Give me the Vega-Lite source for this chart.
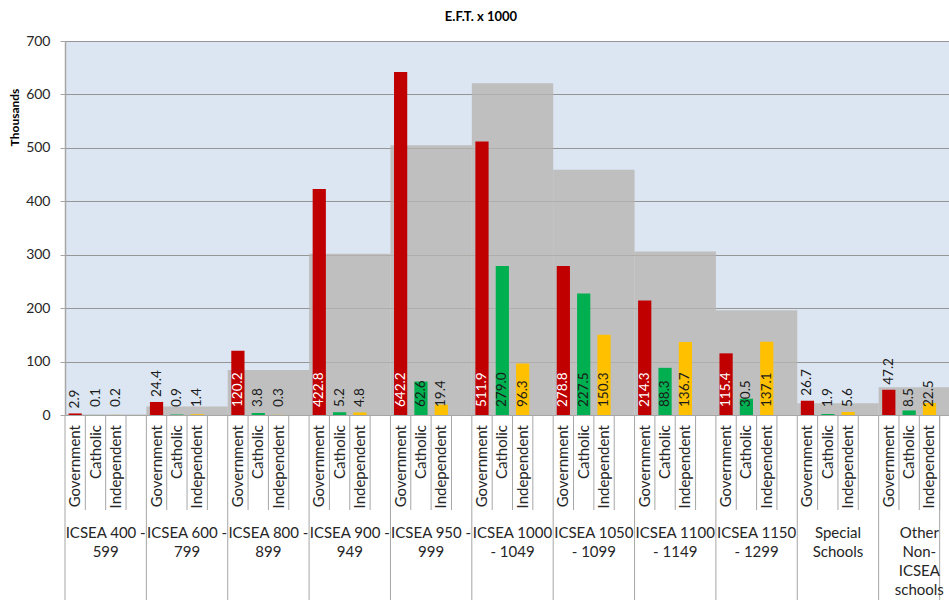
{
  "$schema": "https://vega.github.io/schema/vega-lite/v6.json",
  "autosize": "none",
  "width": 884,
  "height": 374,
  "padding": {"left": 65, "top": 41, "right": 0, "bottom": 185},
  "background": "white",
  "title": {
    "text": "E.F.T. x 1000",
    "font": "Lato",
    "fontSize": 13,
    "fontWeight": "bold",
    "color": "#000000",
    "anchor": "middle",
    "frame": "group",
    "baseline": "alphabetic",
    "dx": -26,
    "offset": 0
  },
  "config": {
    "font": "Lato",
    "view": {"fill": "#DCE6F2", "stroke": null}
  },
  "datasets": {
    "totals": [
      {"group": "ICSEA 400 - 599", "total": 1},
      {"group": "ICSEA 600 - 799", "total": 16},
      {"group": "ICSEA 800 - 899", "total": 84},
      {"group": "ICSEA 900 - 949", "total": 302},
      {"group": "ICSEA 950 - 999", "total": 505},
      {"group": "ICSEA 1000 - 1049", "total": 621},
      {"group": "ICSEA 1050 - 1099", "total": 459},
      {"group": "ICSEA 1100 - 1149", "total": 306},
      {"group": "ICSEA 1150 - 1299", "total": 196},
      {"group": "Special Schools", "total": 22},
      {"group": "Other Non-ICSEA schools", "total": 52}
    ],
    "eft": [
      {"group": "ICSEA 400 - 599", "sector": "Government", "eft": 2.9},
      {"group": "ICSEA 400 - 599", "sector": "Catholic", "eft": 0.1},
      {"group": "ICSEA 400 - 599", "sector": "Independent", "eft": 0.2},
      {"group": "ICSEA 600 - 799", "sector": "Government", "eft": 24.4},
      {"group": "ICSEA 600 - 799", "sector": "Catholic", "eft": 0.9},
      {"group": "ICSEA 600 - 799", "sector": "Independent", "eft": 1.4},
      {"group": "ICSEA 800 - 899", "sector": "Government", "eft": 120.2},
      {"group": "ICSEA 800 - 899", "sector": "Catholic", "eft": 3.8},
      {"group": "ICSEA 800 - 899", "sector": "Independent", "eft": 0.3},
      {"group": "ICSEA 900 - 949", "sector": "Government", "eft": 422.8},
      {"group": "ICSEA 900 - 949", "sector": "Catholic", "eft": 5.2},
      {"group": "ICSEA 900 - 949", "sector": "Independent", "eft": 4.8},
      {"group": "ICSEA 950 - 999", "sector": "Government", "eft": 642.2},
      {"group": "ICSEA 950 - 999", "sector": "Catholic", "eft": 62.6},
      {"group": "ICSEA 950 - 999", "sector": "Independent", "eft": 19.4},
      {"group": "ICSEA 1000 - 1049", "sector": "Government", "eft": 511.9},
      {"group": "ICSEA 1000 - 1049", "sector": "Catholic", "eft": 279.0},
      {"group": "ICSEA 1000 - 1049", "sector": "Independent", "eft": 96.3},
      {"group": "ICSEA 1050 - 1099", "sector": "Government", "eft": 278.8},
      {"group": "ICSEA 1050 - 1099", "sector": "Catholic", "eft": 227.5},
      {"group": "ICSEA 1050 - 1099", "sector": "Independent", "eft": 150.3},
      {"group": "ICSEA 1100 - 1149", "sector": "Government", "eft": 214.3},
      {"group": "ICSEA 1100 - 1149", "sector": "Catholic", "eft": 88.3},
      {"group": "ICSEA 1100 - 1149", "sector": "Independent", "eft": 136.7},
      {"group": "ICSEA 1150 - 1299", "sector": "Government", "eft": 115.4},
      {"group": "ICSEA 1150 - 1299", "sector": "Catholic", "eft": 30.5},
      {"group": "ICSEA 1150 - 1299", "sector": "Independent", "eft": 137.1},
      {"group": "Special Schools", "sector": "Government", "eft": 26.7},
      {"group": "Special Schools", "sector": "Catholic", "eft": 1.9},
      {"group": "Special Schools", "sector": "Independent", "eft": 5.6},
      {"group": "Other Non-ICSEA schools", "sector": "Government", "eft": 47.2},
      {"group": "Other Non-ICSEA schools", "sector": "Catholic", "eft": 8.5},
      {"group": "Other Non-ICSEA schools", "sector": "Independent", "eft": 22.5}
    ]
  },
  "encoding": {
    "x": {
      "field": "group",
      "type": "nominal",
      "scale": {
        "domain": ["ICSEA 400 - 599", "ICSEA 600 - 799", "ICSEA 800 - 899", "ICSEA 900 - 949", "ICSEA 950 - 999", "ICSEA 1000 - 1049", "ICSEA 1050 - 1099", "ICSEA 1100 - 1149", "ICSEA 1150 - 1299", "Special Schools", "Other Non-ICSEA schools"],
        "range": [0, 895],
        "paddingInner": 0,
        "paddingOuter": 0
      },
      "axis": {
        "title": null,
        "labels": false,
        "ticks": false,
        "grid": false,
        "domainColor": "#A6A6A6"
      }
    }
  },
  "layer": [
    {
      "data": {"name": "totals"},
      "mark": {"type": "bar", "fill": "#B7B4B1", "fillOpacity": 0.78},
      "encoding": {
        "y": {
          "field": "total",
          "type": "quantitative",
          "scale": {"domain": [0, 700], "nice": false},
          "title": "Thousands",
          "axis": {
            "values": [0, 100, 200, 300, 400, 500, 600, 700],
            "grid": true,
            "gridColor": "#969696",
            "domainColor": "#A6A6A6",
            "domainWidth": 1.5,
            "tickColor": "#A6A6A6",
            "tickSize": 5,
            "labelFontSize": 14,
            "labelColor": "#262626",
            "labelPadding": 10,
            "titleFontSize": 12,
            "titleFontWeight": "bold",
            "titleColor": "#000000",
            "titleAngle": 270,
            "titleX": -51,
            "titleY": 76,
            "titleAlign": "center",
            "titleBaseline": "middle"
          }
        }
      }
    },
    {
      "data": {"name": "totals"},
      "mark": {"type": "rule", "color": "#A6A6A6", "strokeWidth": 1, "xOffset": -40.68, "y2Offset": 186},
      "encoding": {
        "y": {"datum": 0, "type": "quantitative"},
        "y2": {"datum": 0}
      }
    },
    {
      "data": {"name": "totals"},
      "mark": {"type": "rule", "color": "#A6A6A6", "strokeWidth": 1, "xOffset": -20.34, "y2Offset": 95},
      "encoding": {
        "y": {"datum": 0, "type": "quantitative"},
        "y2": {"datum": 0}
      }
    },
    {
      "data": {"name": "totals"},
      "mark": {"type": "rule", "color": "#A6A6A6", "strokeWidth": 1, "xOffset": 0, "y2Offset": 95},
      "encoding": {
        "y": {"datum": 0, "type": "quantitative"},
        "y2": {"datum": 0}
      }
    },
    {
      "data": {"name": "totals"},
      "mark": {"type": "rule", "color": "#A6A6A6", "strokeWidth": 1, "xOffset": 20.34, "y2Offset": 95},
      "encoding": {
        "y": {"datum": 0, "type": "quantitative"},
        "y2": {"datum": 0}
      }
    },
    {
      "data": {"name": "totals"},
      "transform": [{"filter": "datum.group == 'Other Non-ICSEA schools'"}],
      "mark": {"type": "rule", "color": "#A6A6A6", "strokeWidth": 1, "xOffset": 20.34, "y2Offset": 186},
      "encoding": {
        "y": {"datum": 0, "type": "quantitative"},
        "y2": {"datum": 0}
      }
    },
    {
      "data": {"name": "totals"},
      "transform": [
        {"calculate": "datum.group == 'Special Schools' ? ['Special', 'Schools'] : datum.group == 'Other Non-ICSEA schools' ? ['Other', 'Non-', 'ICSEA', 'schools'] : length(datum.group) == 15 ? [slice(datum.group, 0, 11), slice(datum.group, 12)] : [slice(datum.group, 0, 10), slice(datum.group, 11)]", "as": "label"}
      ],
      "mark": {"type": "text", "align": "center", "baseline": "top", "dy": 111, "font": "Lato", "fontSize": 15, "lineHeight": 19, "color": "#262626"},
      "encoding": {
        "y": {"datum": 0, "type": "quantitative"},
        "text": {"field": "label"}
      }
    },
    {
      "data": {"name": "eft"},
      "encoding": {
        "xOffset": {
          "field": "sector",
          "type": "nominal",
          "scale": {"domain": ["Government", "Catholic", "Independent", "-"], "paddingInner": 0.35, "paddingOuter": 0.175}
        }
      },
      "layer": [
        {
          "mark": {"type": "bar"},
          "encoding": {
            "y": {"field": "eft", "type": "quantitative"},
            "color": {
              "field": "sector",
              "type": "nominal",
              "scale": {"domain": ["Government", "Catholic", "Independent"], "range": ["#C00000", "#00B050", "#FFC000"]},
              "legend": null
            }
          }
        },
        {
          "mark": {"type": "text", "angle": 270, "align": "right", "baseline": "middle", "dx": -10, "font": "Lato", "fontSize": 15, "color": "#262626"},
          "encoding": {
            "y": {"datum": 0, "type": "quantitative"},
            "text": {"field": "sector"}
          }
        },
        {
          "transform": [{"filter": "datum.sector != 'Government' || datum.eft >= 100"}],
          "mark": {"type": "text", "angle": 270, "align": "left", "baseline": "middle", "dx": 8, "font": "Lato", "fontSize": 13.5},
          "encoding": {
            "y": {"datum": 0, "type": "quantitative"},
            "text": {"field": "eft", "type": "quantitative", "format": ".1f"},
            "color": {"condition": {"test": "datum.sector == 'Government'", "value": "#FFFFFF"}, "value": "#1A1A1A"}
          }
        },
        {
          "transform": [{"filter": "datum.sector == 'Government' && datum.eft < 100"}],
          "mark": {"type": "text", "angle": 270, "align": "left", "baseline": "middle", "dx": 5, "font": "Lato", "fontSize": 13.5, "color": "#1A1A1A"},
          "encoding": {
            "y": {"field": "eft", "type": "quantitative"},
            "text": {"field": "eft", "type": "quantitative", "format": ".1f"}
          }
        }
      ]
    }
  ]
}
